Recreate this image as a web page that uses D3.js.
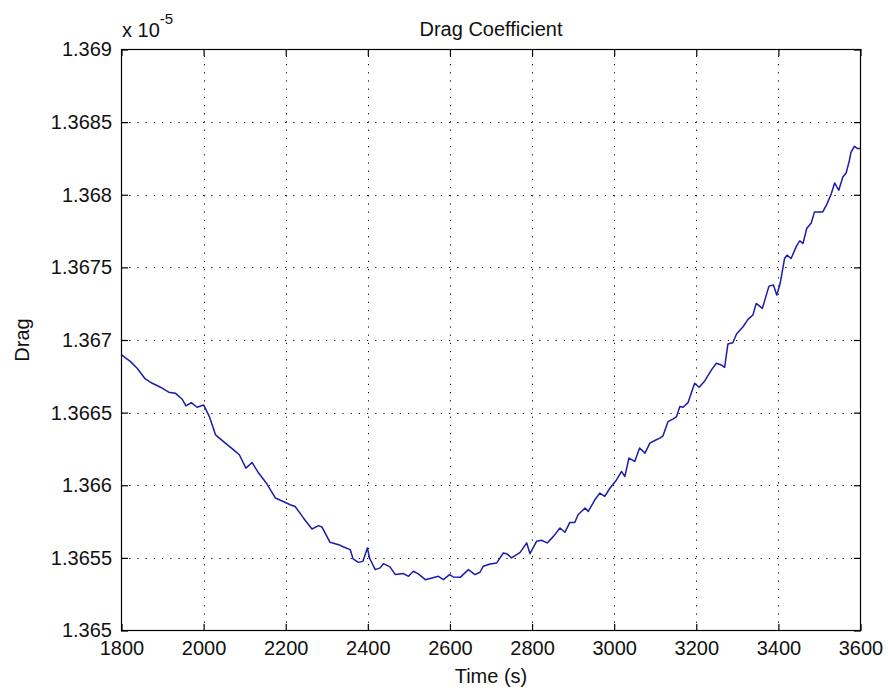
<!DOCTYPE html>
<html>
<head>
<meta charset="utf-8">
<script src="https://cdn.jsdelivr.net/npm/d3@7"></script>
<style>
  html, body { margin: 0; padding: 0; background: #fff; }
  svg { display: block; }
  text { font-family: "Liberation Sans", Arial, sans-serif; fill: #111; }
</style>
</head>
<body>
<svg id="chart" width="888" height="694"></svg>
<script>
// ---- data (values in units of 1e-5) ----
const time = [1800,1822,1838,1858,1875,1895,1915,1931,1948,1957,1970,1984,2000,2014,2029,2053,2073,2087,2103,2118,2134,2154,2175,
  2211,2223,2243,2264,2280,2288,2308,2329,2341,2357,2364,2377,2388,2399,2404,2410,2418,2430,2438,2454,2467,2487,2499,2511,2523,2540,2556,2572,2584,2599,2608,2625,2645,2661,2673,
  2681,2698,2714,2730,2738,2750,2771,2787,2795,2811,2823,2837,2852,2868,2880,2892,2904,2912,2929,2937,2953,2965,2977,2990,3006,3018,3026,3036,3050,3062,3075,3087,3099,3111,
  3119,3131,3143,3152,3160,3168,3180,3196,3207,3221,3237,3249,3261,3269,3277,3289,3298,3314,3326,3338,3346,3361,3377,3388,3396,3404,3415,3421,3431,3444,3452,3460,3469,3480,3488,3508,3517,3529,3537,3547,3557,3565,3573,3577,3585,3593,3600];
const drag = [1.366897,1.366851,1.366805,1.366732,1.366702,1.366675,1.366641,1.366634,1.366592,1.366546,1.366569,1.366537,1.366553,1.366473,1.366347,1.366290,1.366244,1.366210,1.366118,1.366157,1.366084,1.366010,1.365912,
  1.365866,1.365854,1.365775,1.365699,1.365722,1.365713,1.365607,1.365591,1.365575,1.365557,1.365493,1.365469,1.365476,1.365568,1.365500,1.365465,1.365419,1.365431,1.365460,1.365438,1.365385,1.365392,1.365373,1.365408,1.365390,1.365350,1.365362,1.365373,1.365350,1.365385,1.365369,1.365366,1.365419,1.365385,1.365401,
  1.365442,1.365458,1.365465,1.365534,1.365529,1.365500,1.365538,1.365603,1.365529,1.365614,1.365621,1.365603,1.365648,1.365706,1.365676,1.365744,1.365744,1.365797,1.365843,1.365820,1.365900,1.365946,1.365923,1.365981,1.366038,1.366095,1.366060,1.366187,1.366164,1.366256,1.366221,1.366290,1.366308,1.366324,
  1.366340,1.366438,1.366455,1.366473,1.366542,1.366537,1.366569,1.366702,1.366675,1.366720,1.366794,1.366840,1.366828,1.366812,1.366972,1.366981,1.367041,1.367091,1.367142,1.367172,1.367252,1.367218,1.367371,1.367378,1.367309,1.367385,1.367561,1.367584,1.367561,1.367646,1.367682,1.367665,1.367768,1.367806,1.367882,1.367882,1.367928,1.368008,1.368081,1.368031,1.368122,1.368150,1.368237,1.368294,1.368333,1.368318,1.368318];
const xTicks = [1800,2000,2200,2400,2600,2800,3000,3200,3400,3600];
const yTicks = [1.365,1.3655,1.366,1.3665,1.367,1.3675,1.368,1.3685,1.369];
const yTickLabels = ["1.365","1.3655","1.366","1.3665","1.367","1.3675","1.368","1.3685","1.369"];
const titleText = "Drag Coefficient";
const xLabelText = "Time (s)";
const yLabelText = "Drag";

// ---- layout ----
const L = 121, R = 861, T = 49, B = 631;
const svg = d3.select("#chart");
const x = d3.scaleLinear().domain([1800, 3600]).range([L + 0.5, R - 0.5]);
const y = d3.scaleLinear().domain([1.365, 1.369]).range([B - 0.5, T + 0.5]);
const FS = 20;

// grid
const grid = svg.append("g").attr("stroke", "#000").attr("stroke-width", 1).attr("stroke-dasharray", "1.2,7");
grid.selectAll(".gx").data(xTicks.slice(1, -1)).join("line")
  .attr("x1", d => Math.round(x(d)) + 0.5).attr("x2", d => Math.round(x(d)) + 0.5)
  .attr("y1", B).attr("y2", T);
grid.selectAll(".gy").data(yTicks.slice(1, -1)).join("line")
  .attr("y1", d => Math.round(y(d)) + 0.5).attr("y2", d => Math.round(y(d)) + 0.5)
  .attr("x1", L).attr("x2", R);

// data line
const line = d3.line().x((d, i) => x(time[i])).y(d => y(d));
svg.append("path").datum(drag)
  .attr("d", line)
  .attr("fill", "none").attr("stroke", "#1c1caa").attr("stroke-width", 1.5)
  .attr("stroke-linejoin", "round");

// axes
function styleAxis(g) {
  g.select(".domain").remove();
  g.selectAll(".tick line").attr("stroke", "#000").attr("stroke-width", 1.2);
  g.selectAll(".tick text").attr("font-size", FS).attr("font-family", "Liberation Sans, Arial, sans-serif").attr("fill", "#111");
}
svg.append("g").attr("transform", `translate(0,${B})`)
  .call(d3.axisBottom(x).tickValues(xTicks).tickSize(-7).tickPadding(10).tickFormat(d3.format("d")))
  .call(styleAxis);
svg.append("g").attr("transform", `translate(0,${T})`)
  .call(d3.axisTop(x).tickValues(xTicks).tickSize(-7).tickFormat(""))
  .call(styleAxis);
svg.append("g").attr("transform", `translate(${L},0)`)
  .call(d3.axisLeft(y).tickValues(yTicks).tickSize(-7).tickPadding(9).tickFormat((d, i) => yTickLabels[i]))
  .call(styleAxis);
svg.append("g").attr("transform", `translate(${R},0)`)
  .call(d3.axisRight(y).tickValues(yTicks).tickSize(-7).tickFormat(""))
  .call(styleAxis);

// box
svg.append("rect").attr("x", L + 0.5).attr("y", T + 0.5).attr("width", R - L - 1).attr("height", B - T - 1)
  .attr("fill", "none").attr("stroke", "#000").attr("stroke-width", 1.2);

// exponent label
const ex = svg.append("text").attr("x", 122).attr("y", 37).attr("font-size", FS);
ex.append("tspan").text("x 10");
ex.append("tspan").attr("dy", -13).attr("font-size", 15).text("-5");

// title & labels
svg.append("text").attr("x", (L + R) / 2).attr("y", 36).attr("text-anchor", "middle").attr("font-size", FS).text(titleText);
svg.append("text").attr("x", (L + R) / 2).attr("y", 683).attr("text-anchor", "middle").attr("font-size", FS).text(xLabelText);
svg.append("text").attr("transform", `translate(29,${(T + B) / 2}) rotate(-90)`).attr("text-anchor", "middle").attr("font-size", FS).text(yLabelText);
</script>
</body>
</html>
